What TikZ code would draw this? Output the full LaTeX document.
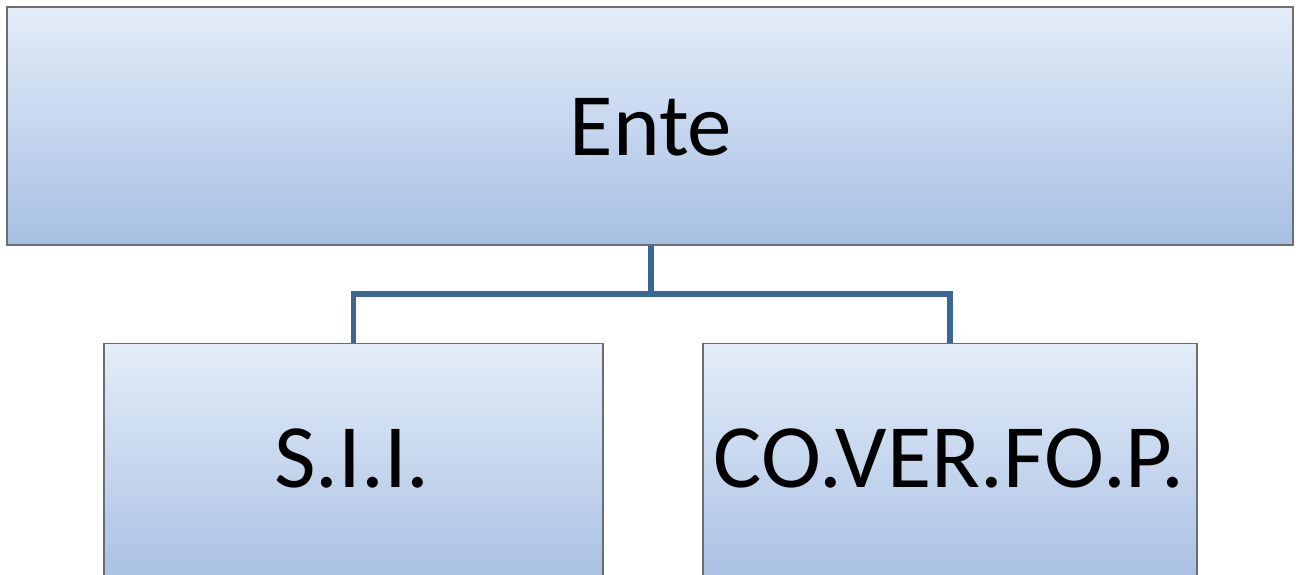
\documentclass[tikz,border=0pt]{standalone}
\usepackage{fontspec}
\setmainfont{Carlito}
\definecolor{boxtop}{HTML}{E4EDF8}
\definecolor{boxbot}{HTML}{A7BFE3}
\definecolor{boxline}{HTML}{6A6E73}
\definecolor{connc}{HTML}{3A6594}
\tikzset{
  orgbox/.style={rectangle, draw=boxline, line width=1.8pt, top color=boxtop, bottom color=boxbot, inner sep=0pt},
  conn/.style={draw=connc, line width=5.5pt},
  bigtext/.style={anchor=base, inner sep=0pt, font=\fontsize{89}{104}\selectfont},
  subtext/.style={anchor=base, inner sep=0pt, font=\fontsize{90.5}{104}\selectfont},
}
\begin{document}
\begin{tikzpicture}[x=1pt, y=-1pt]
\clip (0,0) rectangle (1296,575);
\fill[white] (0,0) rectangle (1296,575);
\node[orgbox, minimum width=1286pt, minimum height=238pt] (top) at (650,126) {};
\node[orgbox, minimum width=499pt, minimum height=245pt] (sii) at (353.5,466) {};
\node[orgbox, minimum width=494pt, minimum height=245pt] (cov) at (950,466) {};
\node[bigtext] (tEnte) at (651,156) {Ente};
\node[subtext] (tSII) at (352,487) {S.I.I.};
\node[subtext] (tCOV) at (949,487) {CO.VER.FO.P.};
\coordinate (j) at (651,294);
\draw[conn] (top.south -| j) -- (j);
\draw[conn] (sii.north) |- (j) -| (cov.north);
\end{tikzpicture}
\end{document}
